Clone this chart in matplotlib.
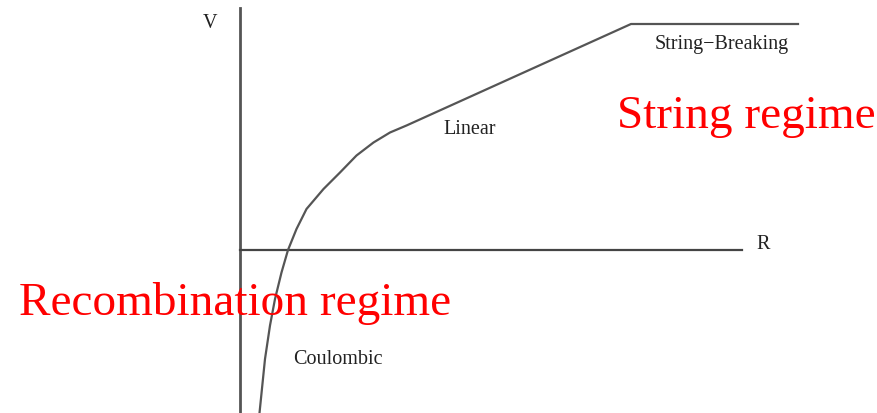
import numpy as np
import matplotlib
matplotlib.use("Agg")
import matplotlib.pyplot as plt

# potential V(R) sketch
r_pts = [0.39, 0.50, 0.60, 0.70, 0.83, 0.96, 1.13, 1.33, 1.67, 2.00,
         2.33, 2.67, 3.00, 3.33, 7.82, 11.16]
v_pts = [-3.26, -2.18, -1.51, -0.98, -0.45, 0.0, 0.42, 0.82, 1.22, 1.55,
         1.89, 2.15, 2.35, 2.49, 4.52, 4.52]

r_axis_end = 10.04
v_axis_top = 4.84
v_axis_bottom = -3.3

labels = ["V", "R", "String\u2212Breaking", "Linear", "Coulombic"]
label_pos = [(-0.6, 4.54), (10.46, 0.12), (9.64, 4.12), (4.6, 2.42), (1.96, -2.18)]

regimes = ["String regime", "Recombination regime"]
regime_pos = [(10.12, 2.46), (-0.1, -1.28)]

fig = plt.figure(figsize=(8.78, 4.14), dpi=100)
ax = fig.add_axes([0, 0, 1, 1])
ax.set_xlim(-4.8, 12.76)
ax.set_ylim(-3.26, 5.02)
ax.axis("off")

# axes of the sketch
ax.plot([0, 0], [v_axis_bottom, v_axis_top], color="#555555", lw=2)
ax.plot([0, r_axis_end], [0, 0], color="#444444", lw=1.6)

ax.plot(r_pts, v_pts, color="#555555", lw=1.6, solid_joinstyle="round")

for txt, (x, y) in zip(labels, label_pos):
    ax.text(x, y, txt, ha="center", va="center", fontsize=14.5,
            family=["Liberation Serif", "DejaVu Serif"], color="#222222")

for txt, (x, y) in zip(regimes, regime_pos):
    ax.text(x, y, txt, ha="center", va="baseline", fontsize=34,
            family=["Liberation Serif", "DejaVu Serif"], color="red")

fig.savefig("out.png", dpi=100)
